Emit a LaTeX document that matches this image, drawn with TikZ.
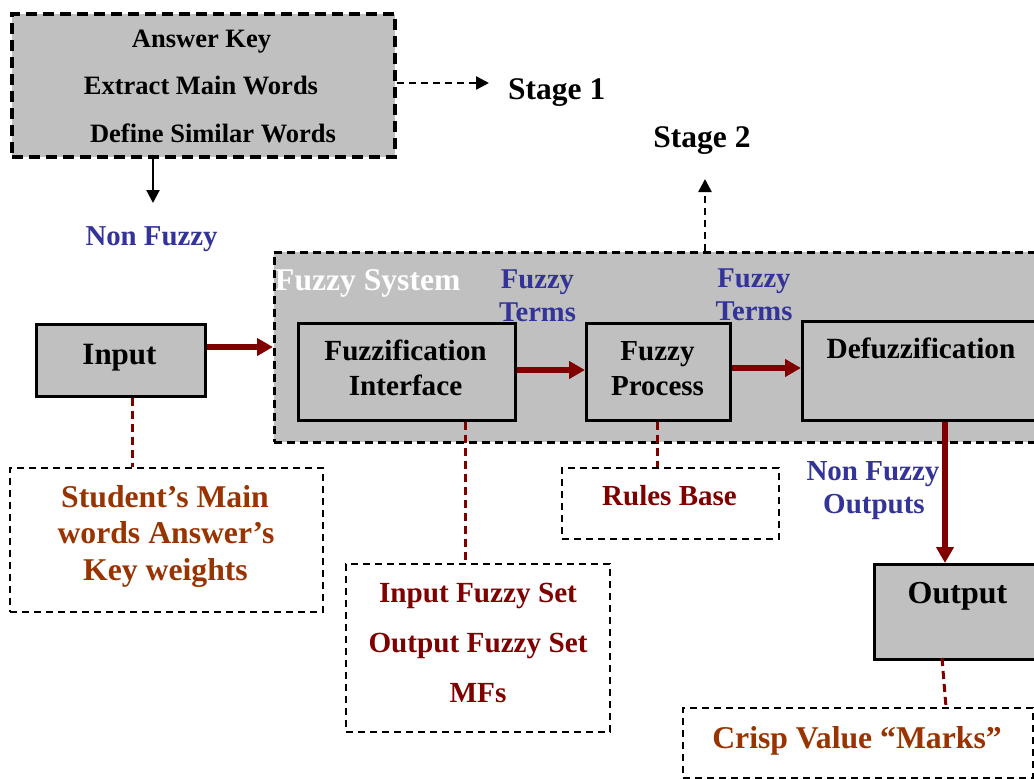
\documentclass[tikz,border=0pt]{standalone}
\usepackage{fontspec}
\setmainfont{Liberation Serif}
\usetikzlibrary{arrows.meta}
\definecolor{boxgray}{HTML}{C0C0C0}
\definecolor{termblue}{HTML}{333399}
\definecolor{darkred}{HTML}{800000}
\definecolor{rust}{HTML}{993300}
\begin{document}
\begin{tikzpicture}[x=1pt,y=-1pt,
  anybox/.style={rectangle, inner sep=0pt, anchor=north west},
  solidbox/.style={anybox, draw=black, line width=2.5pt, fill=boxgray},
  topbox/.style={anybox, draw=black, line width=3.8pt, dash pattern=on 11pt off 6pt, fill=boxgray},
  sysbox/.style={anybox, draw=black, line width=2.5pt, dash pattern=on 8pt off 5pt, fill=boxgray},
  notebox/.style={anybox, draw=black, line width=2pt, dash pattern=on 7pt off 5pt, fill=white},
  txt/.style={anchor=base, inner sep=0pt, font=\fontsize{#1}{#1}\selectfont\bfseries},
  redarrow/.style={draw=darkred, line width=5.5pt, -{Triangle[length=16pt,width=17pt]}},
  reddash/.style={draw=darkred, line width=3pt, dash pattern=on 8pt off 5pt},
  blackarrow/.style={draw=black, line width=2.2pt, -{Triangle[length=13pt,width=13pt]}},
  stagearrow/.style={draw=black, line width=2.5pt, dash pattern=on 7pt off 5pt, -{Triangle[length=13pt,width=13pt]}}
]
\useasboundingbox (0,0) rectangle (1034,779);

% boxes
\node[topbox, minimum width=383pt, minimum height=143pt] (top) at (10,12) {};
\node[sysbox, minimum width=780pt, minimum height=190pt] (fs) at (273,251) {};
\node[solidbox, minimum width=169pt, minimum height=72pt] (input) at (35,323) {};
\node[solidbox, minimum width=217pt, minimum height=97pt] (fuzz) at (297,322) {};
\node[solidbox, minimum width=144pt, minimum height=97pt] (proc) at (585,322) {};
\node[solidbox, minimum width=240pt, minimum height=99pt] (defuzz) at (801,320) {};
\node[solidbox, minimum width=170pt, minimum height=95pt] (output) at (873,563) {};
\node[notebox, minimum width=313pt, minimum height=144pt] (student) at (9,467) {};
\node[notebox, minimum width=264pt, minimum height=168pt] (ifs) at (345,563) {};
\node[notebox, minimum width=217pt, minimum height=71pt] (rules) at (561,467) {};
\node[notebox, minimum width=350pt, minimum height=70pt] (crisp) at (682,707) {};

% texts
\node[txt=26.5] (t1) at (201.5,47) {Answer Key};
\node[txt=26.5] (t2) at (201,94) {Extract Main Words};
\node[txt=26.5] (t3) at (213,142) {Define Similar Words};
\node[txt=31.5, anchor=base west] (stage1) at (508,99) {Stage 1};
\node[txt=31.5] (stage2) at (702,147) {Stage 2};
\node[txt=28.8, text=termblue] (nf) at (151.5,245) {Non Fuzzy};
\node[txt=31.6, text=white, anchor=base west] (fstitle) at (275,290) {Fuzzy System};
\node[txt=28.6, text=termblue] (ft1a) at (537.5,288) {Fuzzy};
\node[txt=28.6, text=termblue] (ft1b) at (537.5,321) {Terms};
\node[txt=28.6, text=termblue] (ft2a) at (754,287) {Fuzzy};
\node[txt=28.6, text=termblue] (ft2b) at (754,320) {Terms};
\node[txt=31] (tinput) at (119.5,364) {Input};
\node[txt=29.2] (tfuzz1) at (405.5,360) {Fuzzification};
\node[txt=29.2] (tfuzz2) at (405.5,395) {Interface};
\node[txt=29] (tproc1) at (657.5,360) {Fuzzy};
\node[txt=29] (tproc2) at (657.5,395) {Process};
\node[txt=29.3] (tdefuzz) at (921,358) {Defuzzification};
\node[txt=29, text=termblue] (nfo1) at (873,480) {Non Fuzzy};
\node[txt=29, text=termblue] (nfo2) at (874,513) {Outputs};
\node[txt=32] (toutput) at (957.5,603) {Output};
\node[txt=31.7, text=rust] (s1) at (165,507) {Student’s Main};
\node[txt=31.7, text=rust] (s2) at (166,543) {words Answer’s};
\node[txt=31.7, text=rust] (s3) at (165.5,580) {Key weights};
\node[txt=29.2, text=darkred] (i1) at (478,602) {Input Fuzzy Set};
\node[txt=29.2, text=darkred] (i2) at (478,652) {Output Fuzzy Set};
\node[txt=29.2, text=darkred] (i3) at (478,702) {MFs};
\node[txt=29, text=darkred] (trules) at (669.5,505) {Rules Base};
\node[txt=31.7, text=rust] (tcrisp) at (857,748) {Crisp Value “Marks”};

% helper coordinates
\coordinate (nftip) at (153,203);
\coordinate (s1tip) at (489,83);
\coordinate (s2tip) at (705,179);
\coordinate (yin) at (0,347);
\coordinate (yfz) at (0,370);
\coordinate (ypr) at (0,368);
\coordinate (xout) at (945,0);
\coordinate (xin) at (132,0);
\coordinate (xfz) at (465,0);
\coordinate (xpr) at (657,0);
\coordinate (cout1) at (942,658);
\coordinate (cout2) at (946,707);

% connectors
\draw[blackarrow] (top.south -| nftip) -- (nftip);
\draw[stagearrow] (top.east |- s1tip) -- (s1tip);
\draw[stagearrow] (fs.north -| s2tip) -- (s2tip);
\draw[redarrow] (input.east |- yin) -- (fs.west |- yin);
\draw[redarrow] (fuzz.east |- yfz) -- (proc.west |- yfz);
\draw[redarrow] (proc.east |- ypr) -- (defuzz.west |- ypr);
\draw[redarrow] (defuzz.south -| xout) -- (output.north -| xout);
\draw[reddash] (input.south -| xin) -- (student.north -| xin);
\draw[reddash] (fuzz.south -| xfz) -- (ifs.north -| xfz);
\draw[reddash] (proc.south -| xpr) -- (rules.north -| xpr);
\draw[reddash] (cout1) -- (cout2);
\end{tikzpicture}
\end{document}
